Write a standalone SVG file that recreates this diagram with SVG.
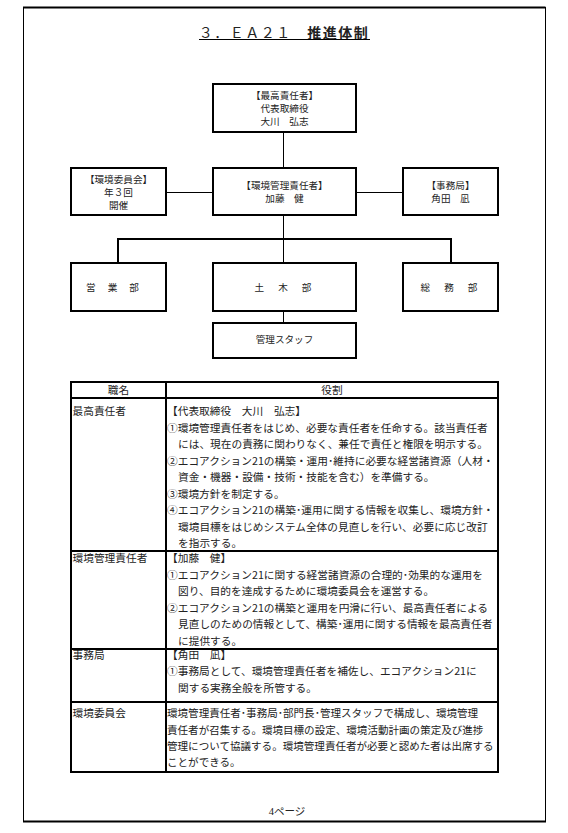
<svg xmlns="http://www.w3.org/2000/svg" width="568" height="833" viewBox="0 0 568 833">
<style>
  text { font-family: "Noto Sans CJK JP", "Noto Sans", sans-serif; fill: #222; }
  .box { fill: #fff; stroke: #000; stroke-width: 2; }
  .thin { stroke: #000; stroke-width: 1; fill: none; }
  .thick { stroke: #000; stroke-width: 2; fill: none; }
  .bt { font-size: 9.6px; text-anchor: middle; }
  .tb { font-size: 10.7px; }
  .rows4 { font-size: 10.55px; }
  .fw { font-feature-settings: "fwid"; }
</style>
<rect x="0" y="0" width="568" height="833" fill="#fff"/>
<g id="frame">
  <line x1="23" y1="7.5" x2="545.5" y2="7.5" class="thick"/>
  <line x1="23.5" y1="7" x2="23.5" y2="822" class="thin"/>
  <line x1="545.5" y1="7" x2="545.5" y2="822" class="thin"/>
  <line x1="23" y1="821.5" x2="546" y2="821.5" class="thick"/>
</g>
<g id="title">
  <text x="284" y="37.5" font-size="14" text-anchor="middle" letter-spacing="1.5">３．ＥＡ２１　<tspan font-weight="bold">推進体制</tspan></text>
  <line x1="199" y1="39.5" x2="370" y2="39.5" class="thin"/>
</g>
<g id="connectors">
  <line x1="283.5" y1="132" x2="283.5" y2="168" class="thin"/>
  <line x1="166" y1="192.5" x2="213" y2="192.5" class="thin"/>
  <line x1="356" y1="192.5" x2="403" y2="192.5" class="thin"/>
  <line x1="283.5" y1="215" x2="283.5" y2="263" class="thin"/>
  <polyline points="118,263 118,239 451,239 451,263" class="thick"/>
  <line x1="283.5" y1="311" x2="283.5" y2="323" class="thin"/>
</g>
<g id="node-top">
  <rect x="213" y="84" width="143" height="48" class="box"/>
  <text class="bt" x="284.5" y="99">【最高責任者】</text>
  <text class="bt" x="284.5" y="112">代表取締役</text>
  <text class="bt" x="284.5" y="124.5">大川　弘志</text>
</g>
<g id="node-kanri">
  <rect x="213" y="168" width="143" height="47" class="box"/>
  <text class="bt" x="284.5" y="189">【環境管理責任者】</text>
  <text class="bt" x="284.5" y="202">加藤　健</text>
</g>
<g id="node-iinkai">
  <rect x="71" y="168" width="95" height="47" class="box"/>
  <text class="bt" x="118.5" y="183">【環境委員会】</text>
  <text class="bt" x="118.5" y="196">年３回</text>
  <text class="bt" x="118.5" y="208.5">開催</text>
</g>
<g id="node-jimu">
  <rect x="403" y="168" width="95" height="47" class="box"/>
  <text class="bt" x="450.5" y="189">【事務局】</text>
  <text class="bt" x="450.5" y="202">角田　凪</text>
</g>
<g id="node-eigyo">
  <rect x="71" y="263" width="95" height="48" class="box"/>
  <text class="bt" x="118.5" y="291" letter-spacing="12">営業部</text>
</g>
<g id="node-doboku">
  <rect x="213" y="263" width="143" height="48" class="box"/>
  <text class="bt" x="290" y="291" letter-spacing="14">土木部</text>
</g>
<g id="node-somu">
  <rect x="403" y="263" width="95" height="48" class="box"/>
  <text class="bt" x="456" y="291" letter-spacing="14">総務部</text>
</g>
<g id="node-staff">
  <rect x="213" y="323" width="143" height="35" class="box"/>
  <text class="bt" x="284.5" y="343">管理スタッフ</text>
</g>
<g id="table">
  <rect x="71" y="382" width="427" height="390" fill="none" stroke="#000" stroke-width="2"/>
  <line x1="71" y1="398" x2="498" y2="398" class="thick"/>
  <line x1="71" y1="551" x2="498" y2="551" class="thick"/>
  <line x1="71" y1="649" x2="498" y2="649" class="thick"/>
  <line x1="71" y1="702" x2="498" y2="702" class="thick"/>
  <line x1="166" y1="382" x2="166" y2="772" class="thick"/>
  <text class="tb" x="118.5" y="394" text-anchor="middle">職名</text>
  <text class="tb" x="332" y="394" text-anchor="middle">役割</text>

  <text class="tb" x="72.5" y="415">最高責任者</text>
  <text class="tb" x="167" y="415">【代表取締役　大川　弘志】</text>
  <text class="tb" x="167" y="431.5"><tspan class="fw">①</tspan>環境管理責任者をはじめ、必要な責任者を任命する。該当責任者</text>
  <text class="tb" x="178" y="448">には、現在の責務に関わりなく、兼任で責任と権限を明示する。</text>
  <text class="tb" x="167" y="464.5"><tspan class="fw">②</tspan>エコアクション21の構築・運用･維持に必要な経営諸資源（人材・</text>
  <text class="tb" x="178" y="481">資金・機器・設備・技術・技能を含む）を準備する。</text>
  <text class="tb" x="167" y="497.5"><tspan class="fw">③</tspan>環境方針を制定する。</text>
  <text class="tb" x="167" y="514"><tspan class="fw">④</tspan>エコアクション21の構築･運用に関する情報を収集し、環境方針・</text>
  <text class="tb" x="178" y="530.5">環境目標をはじめシステム全体の見直しを行い、必要に応じ改訂</text>
  <text class="tb" x="178" y="547">を指示する。</text>

  <text class="tb" x="72.5" y="562">環境管理責任者</text>
  <text class="tb" x="167" y="562">【加藤　健】</text>
  <text class="tb" x="167" y="578.5"><tspan class="fw">①</tspan>エコアクション21に関する経営諸資源の合理的･効果的な運用を</text>
  <text class="tb" x="178" y="595">図り、目的を達成するために環境委員会を運営する。</text>
  <text class="tb" x="167" y="611.5"><tspan class="fw">②</tspan>エコアクション21の構築と運用を円滑に行い、最高責任者による</text>
  <text class="tb" x="178" y="628">見直しのための情報として、構築･運用に関する情報を最高責任者</text>
  <text class="tb" x="178" y="644.5">に提供する。</text>

  <text class="tb" x="72.5" y="659">事務局</text>
  <text class="tb" x="167" y="659">【角田　凪】</text>
  <text class="tb" x="167" y="675"><tspan class="fw">①</tspan>事務局として、環境管理責任者を補佐し、エコアクション21に</text>
  <text class="tb" x="178" y="691.5">関する実務全般を所管する。</text>

  <text class="tb" x="72.5" y="717">環境委員会</text>
  <text class="rows4" x="167" y="717">環境管理責任者･事務局･部門長･管理スタッフで構成し、環境管理</text>
  <text class="rows4" x="167" y="733.5">責任者が召集する。環境目標の設定、環境活動計画の策定及び進捗</text>
  <text class="rows4" x="167" y="750">管理について協議する。環境管理責任者が必要と認めた者は出席する</text>
  <text class="rows4" x="167" y="766">ことができる。</text>
</g>
<g id="footer">
  <text x="287" y="815" font-size="10.5" text-anchor="middle"><tspan font-family="Liberation Serif">4</tspan>ページ</text>
</g>
</svg>
